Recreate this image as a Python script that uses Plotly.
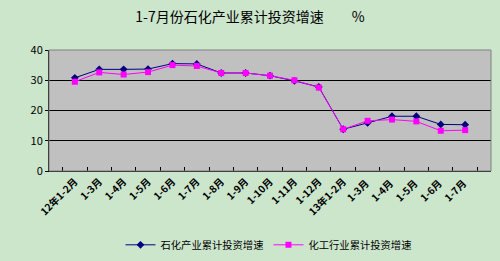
import plotly.graph_objects as go

categories = ["12年1-2月", "1-3月", "1-4月", "1-5月", "1-6月", "1-7月", "1-8月", "1-9月",
              "1-10月", "1-11月", "1-12月", "13年1-2月", "1-3月 ", "1-4月 ", "1-5月 ", "1-6月 ", "1-7月 "]
petro = [30.8, 33.6, 33.6, 33.7, 35.5, 35.4, 32.4, 32.4, 31.5, 29.8, 27.8, 13.8, 15.9, 18.1, 18.1, 15.4, 15.3]
chem = [29.5, 32.6, 31.9, 32.7, 35.0, 34.7, 32.4, 32.4, 31.5, 30.0, 27.6, 13.8, 16.6, 17.0, 16.4, 13.3, 13.5]
yticks = [0, 10, 20, 30, 40]

font = "Noto Sans CJK SC"
fig = go.Figure()
fig.add_trace(go.Scatter(x=categories, y=petro, name="石化产业累计投资增速", mode="lines+markers",
                         line=dict(color="#000080", width=1),
                         marker=dict(symbol="diamond", size=6, color="#000080")))
fig.add_trace(go.Scatter(x=categories, y=chem, name="化工行业累计投资增速", mode="lines+markers",
                         line=dict(color="#FF00FF", width=1),
                         marker=dict(symbol="square", size=6, color="#FF00FF")))

fig.update_layout(
    width=500, height=261,
    paper_bgcolor="#CCE6CC", plot_bgcolor="#C0C0C0",
    margin=dict(l=49, r=9, t=50, b=90),
    font=dict(family=font, size=10, color="black"),
    title=dict(text="1-7月份石化产业累计投资增速　　%", x=0.5, xanchor="center", y=0.935, yanchor="middle",
               font=dict(size=14, family=font)),
    showlegend=True,
    legend=dict(orientation="h", x=0.537, xanchor="center", xref="container",
                y=0.062, yanchor="middle", yref="container",
                font=dict(size=10.3), bgcolor="rgba(0,0,0,0)", itemwidth=30),
    xaxis=dict(type="category", tickangle=-45, tickson="boundaries", ticks="inside", ticklen=4,
               tickcolor="black", showline=True, linecolor="black", mirror=False, showgrid=False,
               tickfont=dict(size=10, weight="bold"), zeroline=False, automargin=False),
    yaxis=dict(range=[0, 40], tickvals=yticks, showgrid=True, gridcolor="black", gridwidth=1,
               showline=True, linecolor="black", ticks="outside", ticklen=3, tickcolor="black",
               tickfont=dict(size=11), zeroline=False, automargin=False),
)
fig.add_shape(type="rect", xref="paper", yref="paper", x0=0, y0=0, x1=1, y1=1,
              line=dict(color="#808080", width=1))
fig.write_html("out.html", config={"displayModeBar": False},
               post_script="document.body.style.margin='0px';document.body.style.background='#CCE6CC';")
